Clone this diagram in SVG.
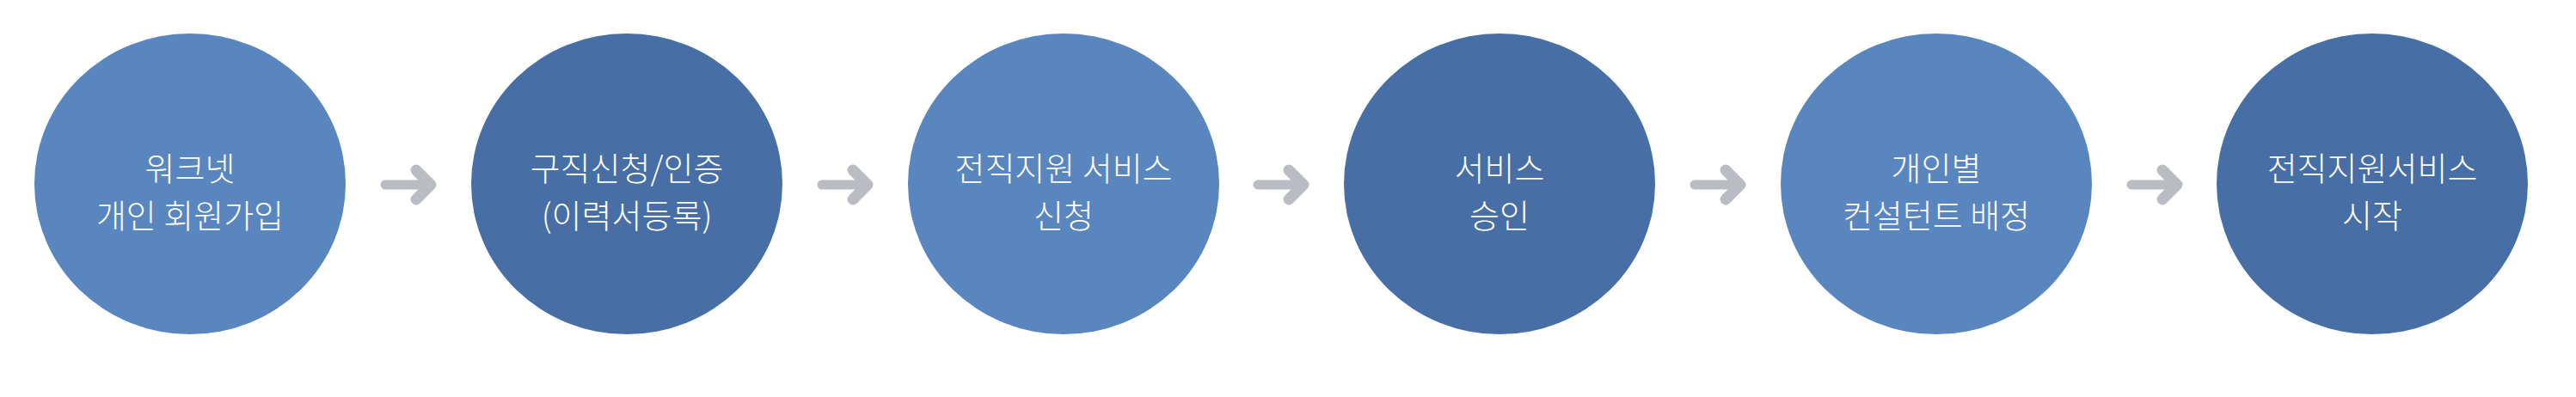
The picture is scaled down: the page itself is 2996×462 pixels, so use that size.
<svg xmlns="http://www.w3.org/2000/svg" xmlns:xlink="http://www.w3.org/1999/xlink" width="2996" height="462" viewBox="0 0 2996 462">
<style>
.light{fill:#5986BE}
.dark{fill:#476FA5}
.lbl{fill:#FFFFFF;font-family:"Noto Sans CJK KR","Noto Sans",sans-serif;font-size:38px;font-weight:300;text-anchor:middle}
.arr{fill:none;stroke:#B9BCC3;stroke-linecap:round;stroke-linejoin:round}
</style>
<defs>
<g id="arrow">
<line class="arr" x1="6" y1="0" x2="58" y2="0" stroke-width="11"/>
<polyline class="arr" points="42,-17 59,0 42,17" stroke-width="13"/>
</g>
</defs>
<g id="connectors">
<use xlink:href="#arrow" href="#arrow" x="442" y="215"/>
<use xlink:href="#arrow" href="#arrow" x="950" y="215"/>
<use xlink:href="#arrow" href="#arrow" x="1457" y="215"/>
<use xlink:href="#arrow" href="#arrow" x="1965" y="215"/>
<use xlink:href="#arrow" href="#arrow" x="2473" y="215"/>
</g>
<g id="node1">
<ellipse class="light" cx="221" cy="214" rx="181" ry="175"/>
<text class="lbl" x="221" y="210">워크넷</text>
<text class="lbl" x="221" y="265">개인 회원가입</text>
</g>
<g id="node2">
<ellipse class="dark" cx="729" cy="214" rx="181" ry="175"/>
<text class="lbl" x="729" y="210">구직신청/인증</text>
<text class="lbl" x="729" y="265">(이력서등록)</text>
</g>
<g id="node3">
<ellipse class="light" cx="1237" cy="214" rx="181" ry="175"/>
<text class="lbl" x="1237" y="210">전직지원 서비스</text>
<text class="lbl" x="1237" y="265">신청</text>
</g>
<g id="node4">
<ellipse class="dark" cx="1744" cy="214" rx="181" ry="175"/>
<text class="lbl" x="1744" y="210">서비스</text>
<text class="lbl" x="1744" y="265">승인</text>
</g>
<g id="node5">
<ellipse class="light" cx="2252" cy="214" rx="181" ry="175"/>
<text class="lbl" x="2252" y="210">개인별</text>
<text class="lbl" x="2252" y="265">컨설턴트 배정</text>
</g>
<g id="node6">
<ellipse class="dark" cx="2759" cy="214" rx="181" ry="175"/>
<text class="lbl" x="2759" y="210">전직지원서비스</text>
<text class="lbl" x="2759" y="265">시작</text>
</g>
</svg>
